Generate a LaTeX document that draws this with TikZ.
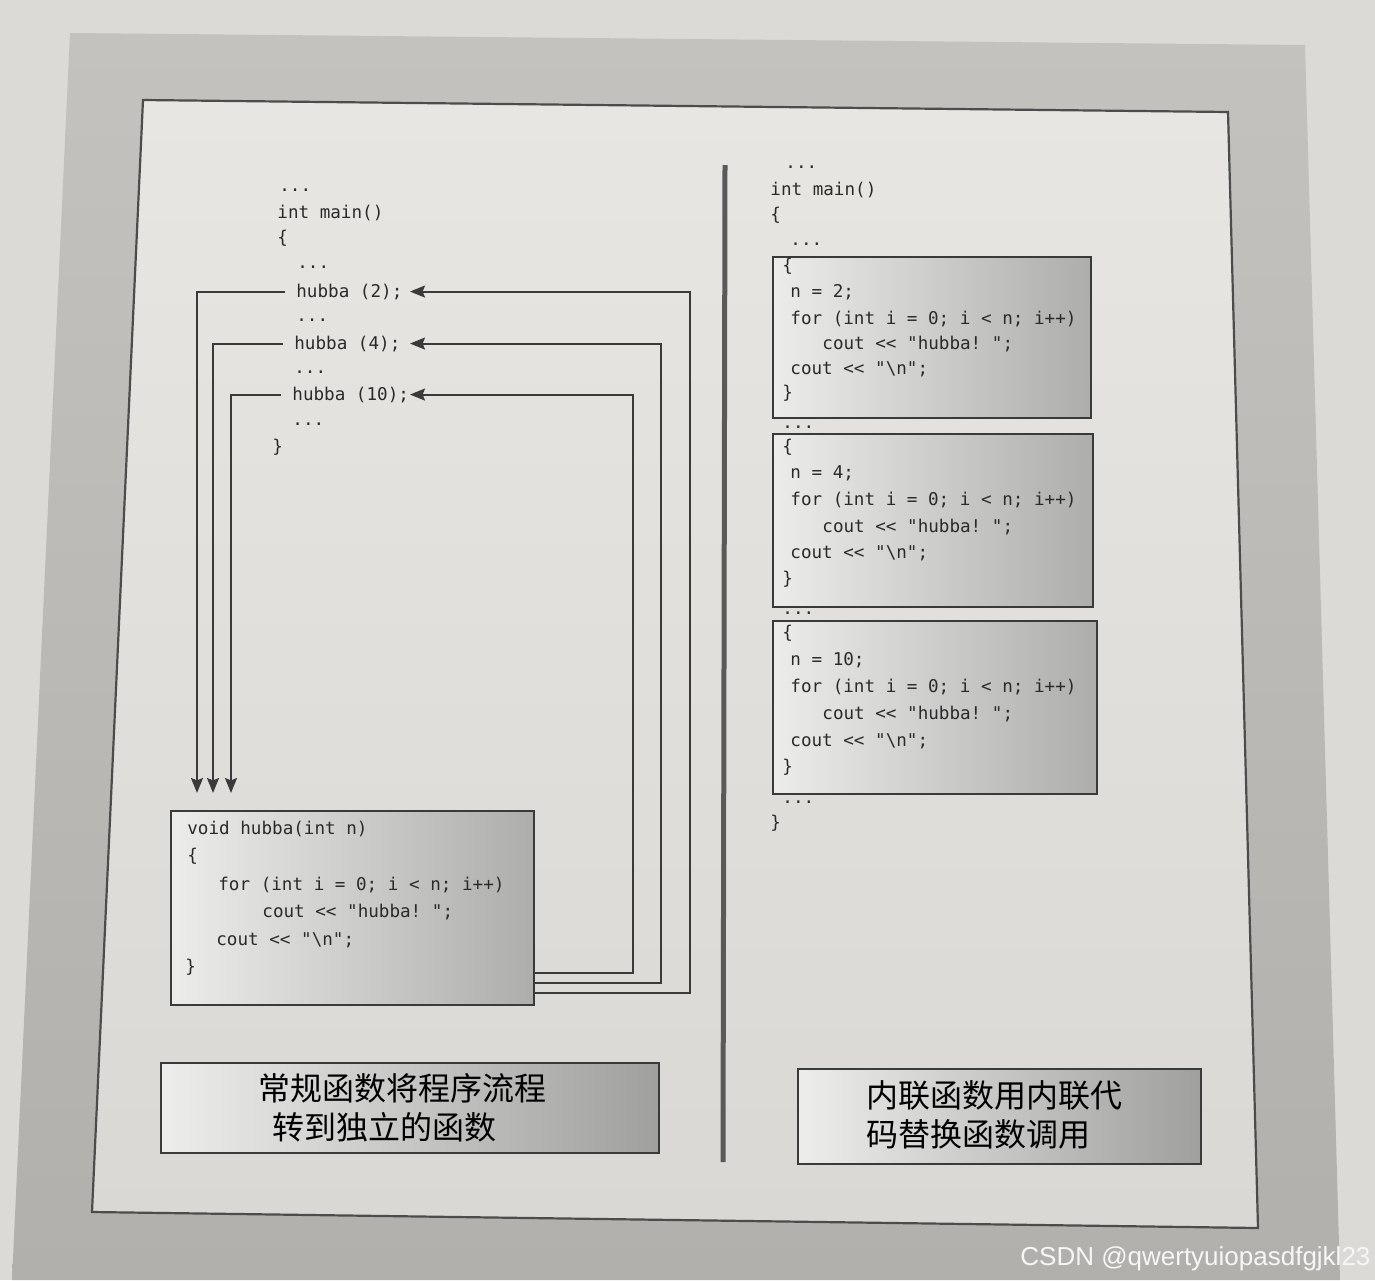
\documentclass[tikz,border=0pt]{standalone}
\usepackage{fontspec}
\setmonofont{DejaVu Sans Mono}
\newfontfamily\cjk{Noto Sans CJK SC}
\newfontfamily\wmfont{Liberation Sans}
\usetikzlibrary{arrows.meta,calc}
\definecolor{bgcol}{HTML}{DCDAD6}
\definecolor{panelT}{HTML}{C3C2BE}
\definecolor{panelB}{HTML}{B1B0AC}
\definecolor{pageT}{HTML}{E7E6E3}
\definecolor{pageB}{HTML}{D9D8D5}
\definecolor{boxL}{HTML}{ECECEA}
\definecolor{boxR}{HTML}{ADADAB}
\definecolor{ink}{HTML}{2A2A2A}
\definecolor{lineink}{HTML}{3A3A3A}
\begin{document}
\begin{tikzpicture}[x=0.5pt,y=-0.5pt,
  code/.style={anchor=base west, inner sep=0pt, font=\ttfamily\fontsize{8.8}{10}\selectfont, text=ink},
  codebox/.style={draw=lineink, line width=1.2pt, left color=boxL, right color=boxR, anchor=north west, inner sep=0pt},
  capbox/.style={draw=lineink, line width=1.2pt, left color=boxL!95!white, right color=boxR!92!black, anchor=north west, inner sep=0pt},
  captext/.style={inner sep=0pt, font=\cjk\fontsize{16}{19.5}\selectfont, text=black},
  flow/.style={draw=lineink, line width=1pt, -{Stealth[length=7.5pt,width=6pt,inset=1.2pt]}},
  frameline/.style={draw=black!70, line width=1.1pt},
  divider/.style={draw=black!65, line width=2.5pt}]
\useasboundingbox (0,0) rectangle (1375,1280);
% photo background, page and frame
\fill[bgcol] (0,0) rectangle (1375,1280);
\shade[top color=panelT, bottom color=panelB] (70,33) -- (1305,45) -- (1340,1280) -- (12,1280) -- cycle;
\shade[top color=pageT, bottom color=pageB] (143,100) -- (1228,112) -- (1258,1228) -- (92,1212) -- cycle;
\draw[frameline] (143,100) -- (1228,112) -- (1258,1228) -- (92,1212) -- cycle;
% divider
\draw[divider] (725,165) -- (723,1162);

% ---------- left: main() ----------
\node[code] (ld0) at (279,191) {...};
\node[code] (lmain) at (277,218) {int main()};
\node[code] (lob) at (277,243) {\{};
\node[code] (ld1) at (297,268) {...};
\node[code] (h2) at (296,297) {hubba (2);};
\node[code] (ld2) at (296,321) {...};
\node[code] (h4) at (294,349) {hubba (4);};
\node[code] (ld3) at (294,373) {...};
\node[code] (h10) at (292,400) {hubba (10);};
\node[code] (ld4) at (292,425) {...};
\node[code] (lcb) at (272,452) {\}};

% ---------- left: function box ----------
\node[codebox, minimum width=181.5pt, minimum height=97pt] (fn) at (170,810) {};
\node[code] (f1) at (187,834) {void hubba(int n)};
\node[code] (f2) at (187,861) {\{};
\node[code] (f3) at (218,890) {for (int i = 0; i < n; i++)};
\node[code] (f4) at (262,917) {cout << "hubba! ";};
\node[code] (f5) at (216,945) {cout << "\textbackslash n";};
\node[code] (f6) at (185,972) {\}};

% calls: down into the function
\coordinate (t2) at (197,793);
\coordinate (t4) at (213,793);
\coordinate (t10) at (231,793);
\draw[flow] ([xshift=-5.5pt]h2.west) -| (t2);
\draw[flow] ([xshift=-5.5pt]h4.west) -| (t4);
\draw[flow] ([xshift=-5.5pt]h10.west) -| (t10);

% returns: back to the callers
\coordinate (tipx) at (410,0);
\coordinate (r2) at (690,993);
\coordinate (r4) at (661,983);
\coordinate (r10) at (633,973);
\draw[flow] (fn.east |- r2) -- (r2) |- (h2.east -| tipx);
\draw[flow] (fn.east |- r4) -- (r4) |- (h4.east -| tipx);
\draw[flow] (fn.east |- r10) -- (r10) |- (h10.east -| tipx);

% ---------- right: inline code ----------
\node[code] (rd0) at (785,168) {...};
\node[code] (rmain) at (770,195) {int main()};
\node[code] (rob) at (770,220) {\{};
\node[code] (rd1) at (790,245) {...};

\node[codebox, minimum width=159pt, minimum height=80.5pt] (b1) at (772,256) {};
\node[code] (b1a) at (782,271) {\{};
\node[code] (b1b) at (790,297) {n = 2;};
\node[code] (b1c) at (790,324) {for (int i = 0; i < n; i++)};
\node[code] (b1d) at (822,349) {cout << "hubba! ";};
\node[code] (b1e) at (790,374) {cout << "\textbackslash n";};
\node[code] (b1f) at (782,398) {\}};

\node[code] (rd2) at (782,428) {...};

\node[codebox, minimum width=160pt, minimum height=86.5pt] (b2) at (772,433) {};
\node[code] (b2a) at (782,452) {\{};
\node[code] (b2b) at (790,478) {n = 4;};
\node[code] (b2c) at (790,505) {for (int i = 0; i < n; i++)};
\node[code] (b2d) at (822,532) {cout << "hubba! ";};
\node[code] (b2e) at (790,558) {cout << "\textbackslash n";};
\node[code] (b2f) at (782,584) {\}};

\node[code] (rd3) at (782,614) {...};

\node[codebox, minimum width=162pt, minimum height=86.5pt] (b3) at (772,620) {};
\node[code] (b3a) at (782,638) {\{};
\node[code] (b3b) at (790,665) {n = 10;};
\node[code] (b3c) at (790,692) {for (int i = 0; i < n; i++)};
\node[code] (b3d) at (822,719) {cout << "hubba! ";};
\node[code] (b3e) at (790,746) {cout << "\textbackslash n";};
\node[code] (b3f) at (782,772) {\}};

\node[code] (rd4) at (782,803) {...};
\node[code] (rcb) at (770,828) {\}};

% ---------- captions ----------
\node[capbox, minimum width=249pt, minimum height=45pt] (c1) at (160,1062) {};
\node[captext, align=left, anchor=west] (c1t) at (258,1108) {常规函数将程序流程\\\hspace*{7pt}转到独立的函数};
\node[capbox, minimum width=201.5pt, minimum height=47.5pt] (c2) at (797,1068) {};
\node[captext, align=left, anchor=west] (c2t) at (866,1115) {内联函数用内联代\\码替换函数调用};

% watermark
\node[anchor=base west, inner sep=0pt, font=\wmfont\fontsize{13}{15}\selectfont, text=white!93!gray] (wm) at (1020,1265) {CSDN @qwertyuiopasdfgjkl23};
\end{tikzpicture}
\end{document}
